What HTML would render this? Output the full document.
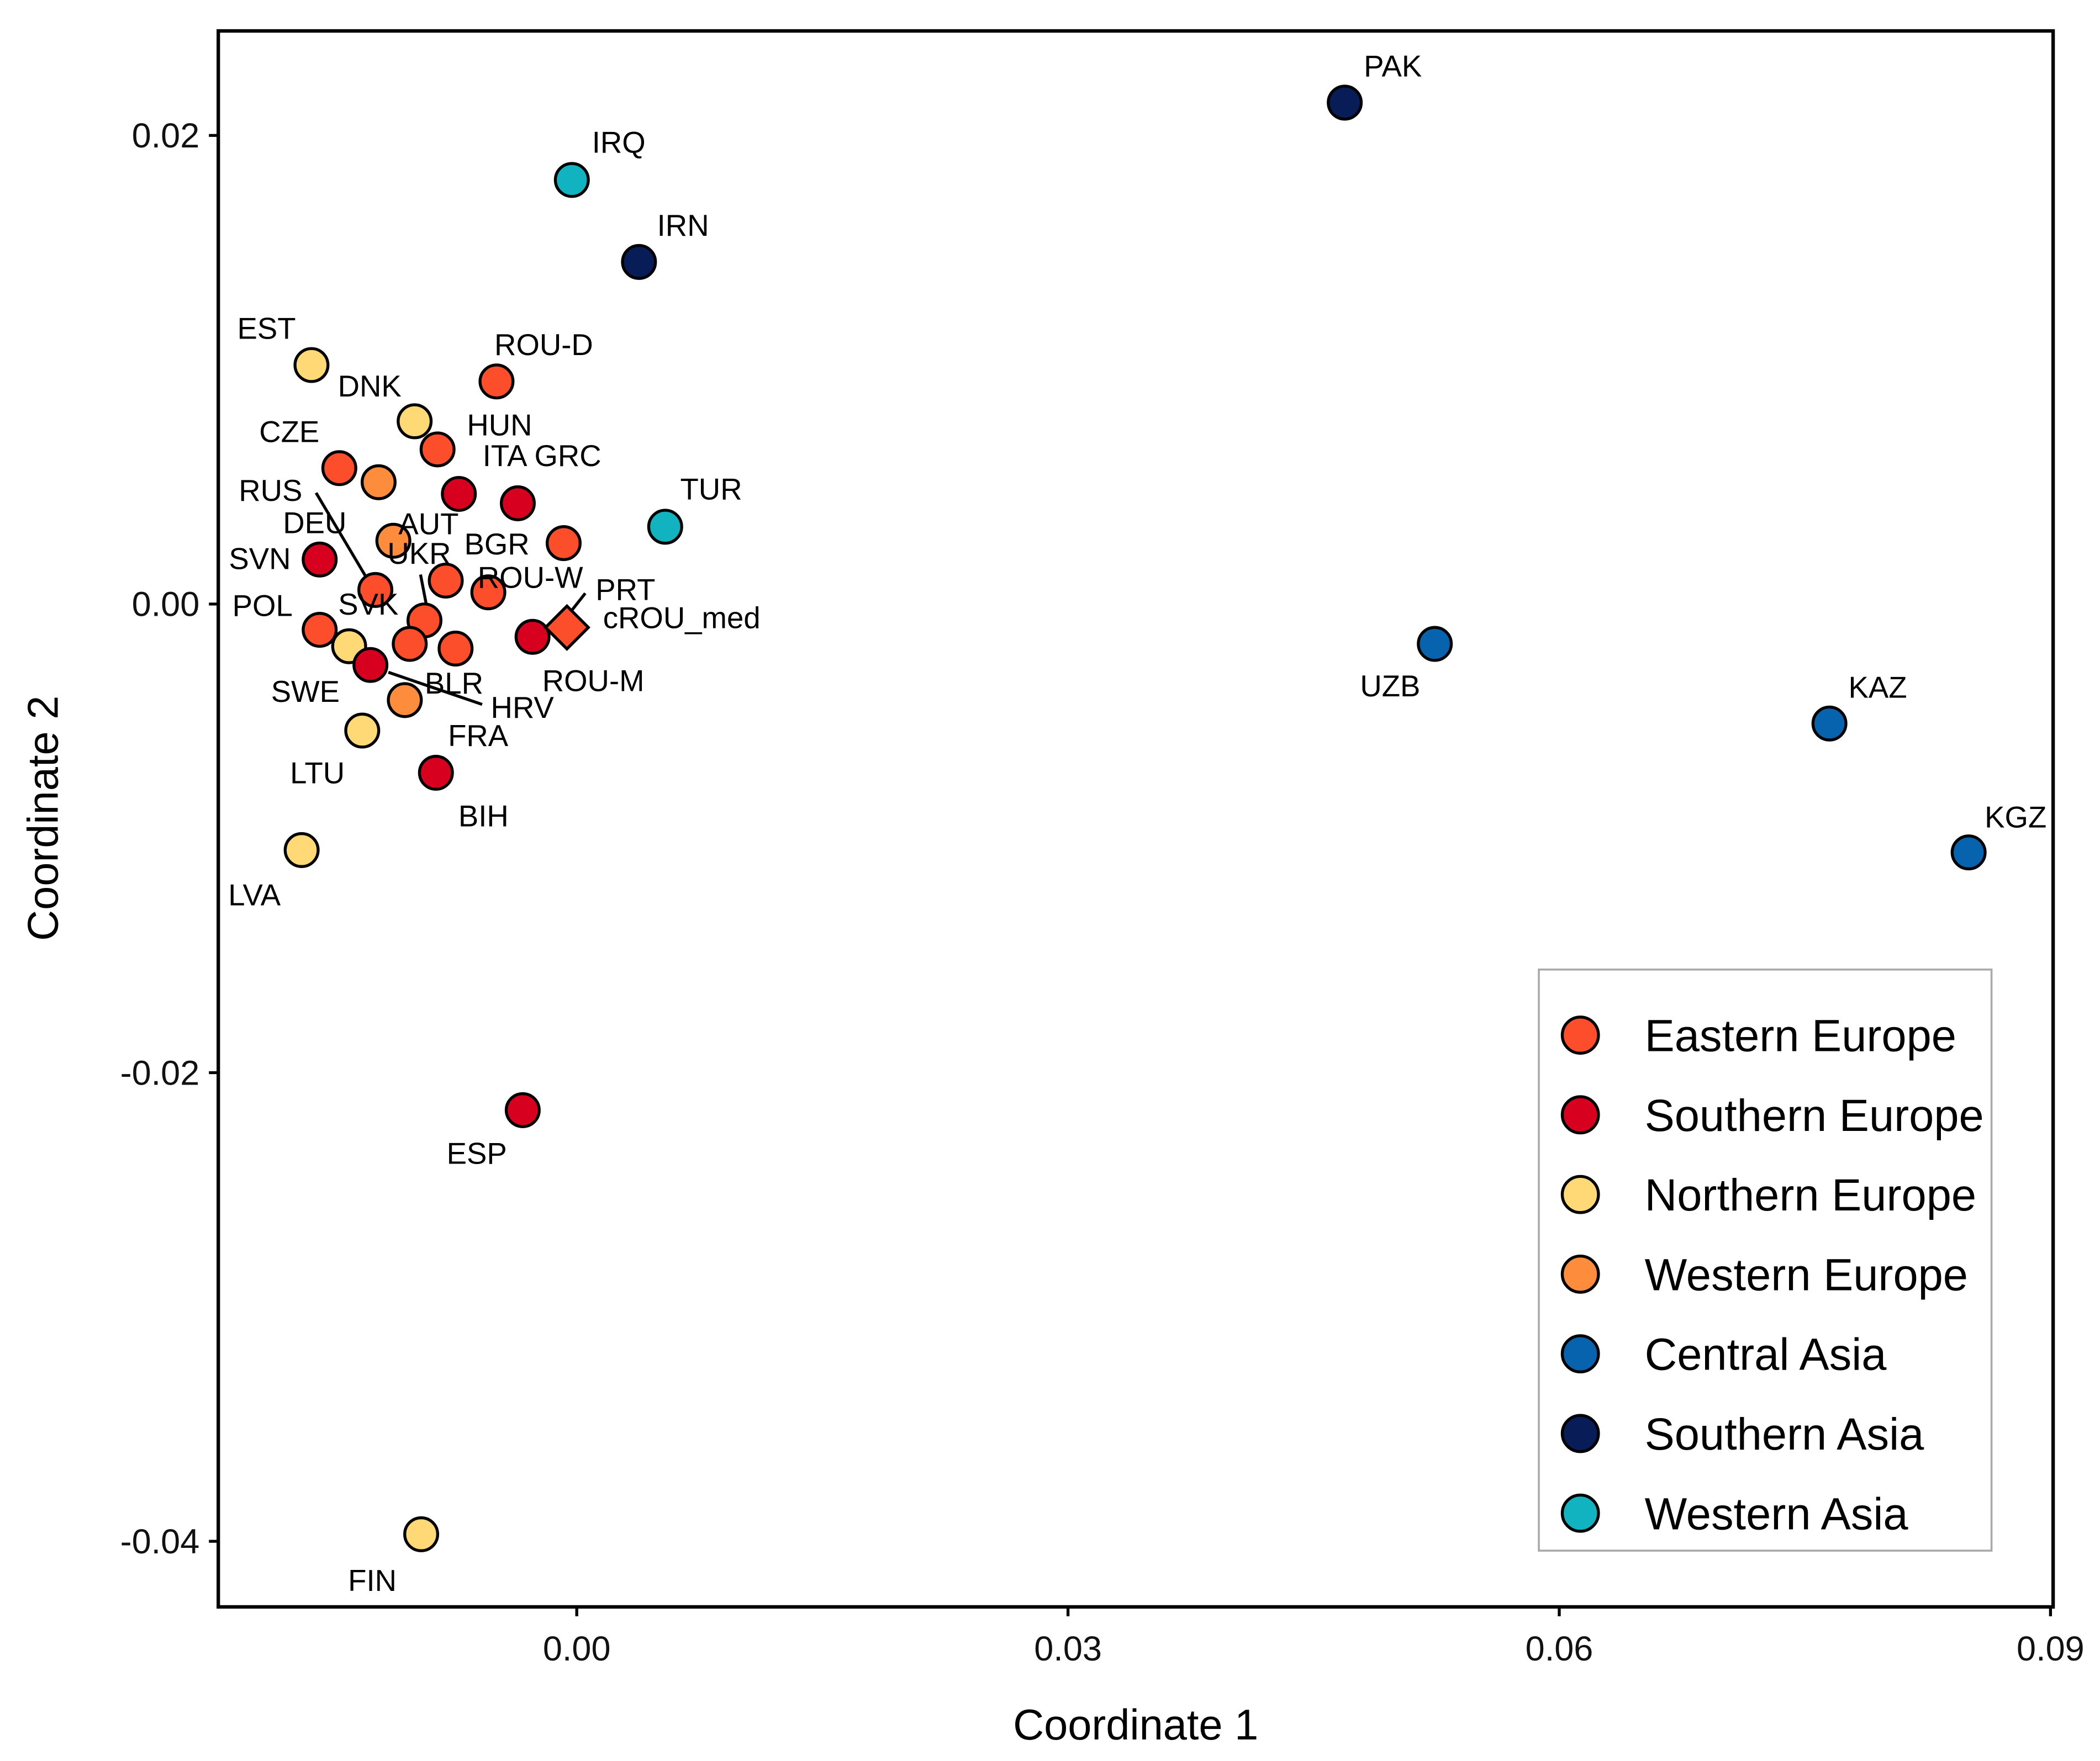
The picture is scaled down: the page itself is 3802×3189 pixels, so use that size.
<!DOCTYPE html>
<html><head><meta charset="utf-8"><style>html,body{margin:0;padding:0;background:#fff}svg{display:block}text{font-family:"Liberation Sans",Arial,sans-serif}</style></head>
<body>
<svg id="chart" xmlns="http://www.w3.org/2000/svg" width="3802" height="3189" viewBox="0 0 1568 1315">
<rect x="0" y="0" width="1568" height="1315" fill="#fff"/>
<g id="plot"></g>
</svg>
<script>
const names = ["PAK","IRQ","IRN","EST","ROU-D","DNK","HUN","CZE","DEU","ITA","GRC","TUR","AUT","BGR","SVN","SVK","UKR","ROU-W","RUS","POL","SWE","BLR","ROU-M","PRT","cROU_med","HRV","FRA","LTU","BIH","LVA","ESP","FIN","UZB","KAZ","KGZ"];
const xVals = [0.0469,-0.0003,0.0038,-0.0162,-0.0049,-0.0099,-0.0085,-0.0145,-0.0121,-0.0072,-0.0036,0.0054,-0.0112,-0.0008,-0.0157,-0.0123,-0.0080,-0.0054,-0.0093,-0.0157,-0.0139,-0.0102,-0.0074,-0.0027,-0.0006,-0.0126,-0.0105,-0.0131,-0.0086,-0.0168,-0.0033,-0.0095,0.0524,0.0765,0.0850];
const yVals = [0.0214,0.0181,0.0146,0.0102,0.0095,0.0078,0.0066,0.0058,0.0052,0.0047,0.0043,0.0033,0.0027,0.0026,0.0019,0.0006,0.0010,0.0005,-0.0007,-0.0011,-0.0018,-0.0017,-0.0019,-0.0014,-0.0010,-0.0026,-0.0041,-0.0054,-0.0072,-0.0105,-0.0216,-0.0397,-0.0017,-0.0051,-0.0106];
const groups = ["SA","WA","SA","NE","EE","NE","EE","EE","WE","SE","SE","WA","WE","EE","SE","EE","EE","EE","EE","EE","NE","EE","EE","SE","EE","SE","WE","NE","SE","NE","SE","NE","CA","CA","CA"];
const xTicks = [0.00,0.03,0.06,0.09];
const xTickLabels = ["0.00","0.03","0.06","0.09"];
const yTicks = [0.02,0.00,-0.02,-0.04];
const yTickLabels = ["0.02","0.00","-0.02","-0.04"];
const legendKeys = ["EE","SE","NE","WE","CA","SA","WA"];
const legendLabels = ["Eastern Europe","Southern Europe","Northern Europe","Western Europe","Central Asia","Southern Asia","Western Asia"];

const colors = {EE:"#FC4E2A",SE:"#D7001F",NE:"#FED976",WE:"#FD8D3C",CA:"#0863AE",SA:"#081D58",WA:"#12B3C0"};
const labelPos = {"PAK":[1040,49],"IRQ":[462,106],"IRN":[510,168],"EST":[199,245],"ROU-D":[406,257],"DNK":[276,288],"HUN":[373,317],"CZE":[216,322],"ITA":[377,340],"GRC":[424,340],"ROU-T":[446,365],"TUR":[531,365],"RUS":[202,366],"DEU":[235,390],"AUT":[320,391],"SVN":[194,417],"BGR":[371,406],"UKR":[313,413],"ROU-W":[396,431],"PRT":[467,440],"cROU_med":[509,461],"POL":[196,452],"SVK":[275,451],"SWE":[228,516],"BLR":[339,510],"ROU-M":[443,508],"HRV":[390,528],"FRA":[357,549],"LTU":[237,577],"BIH":[361,609],"LVA":[190,668],"ESP":[356,861],"FIN":[278,1180],"UZB":[1038,512],"KAZ":[1402,513],"KGZ":[1505,610]};
const L=163,R=1533,T=23,B=1200;
const X0=-0.02189,X1=0.09016,Y0=-0.0428,Y1=0.02446;
function sx(v){return L+(v-X0)/(X1-X0)*(R-L);}
function sy(v){return B-(v-Y0)/(Y1-Y0)*(B-T);}
const NS="http://www.w3.org/2000/svg";
const g=document.getElementById('plot');
function mk(tag,attrs,parent){const e=document.createElementNS(NS,tag);for(const k in attrs)e.setAttribute(k,attrs[k]);(parent||g).appendChild(e);return e;}
xTicks.forEach((t,i)=>{
 const tk=mk('line',{x1:sx(t),x2:sx(t),y1:B,y2:B+7,stroke:'#000','stroke-width':2.2});
 
 
 const tl=mk('text',{x:sx(t),y:B+40,'font-size':26,'text-anchor':'middle',fill:'#111'});tl.textContent=xTickLabels[i];
 
 
});
yTicks.forEach((t,i)=>{
 const tk=mk('line',{x1:L-7,x2:L,y1:sy(t),y2:sy(t),stroke:'#000','stroke-width':2.2});
 
 
 const tl=mk('text',{x:L-14,y:sy(t)+9,'font-size':26,'text-anchor':'end',fill:'#111'});tl.textContent=yTickLabels[i];
 
 
});
const segs=[[236,368,277,437],[314,429,319,455],[437,443,422,462],[290,502,360,526]];
segs.forEach(s=>{const l=mk('line',{x1:s[0],y1:s[1],x2:s[2],y2:s[3],stroke:'#000','stroke-width':2.2});
 
 });
names.forEach((n,i)=>{
 const cx=sx(xVals[i]),cy=sy(yVals[i]);let p;
 if(n==="cROU_med"){p=mk('polygon',{points:`${cx},${cy-16} ${cx+16},${cy} ${cx},${cy+16} ${cx-16},${cy}`,fill:colors[groups[i]],stroke:'#000','stroke-width':2.2});}
 else p=mk('circle',{cx:cx,cy:cy,r:12.3,fill:colors[groups[i]],stroke:'#000','stroke-width':2.2});
 
 
});
names.forEach(n=>{
 const lp=labelPos[n];const t=mk('text',{x:lp[0],y:lp[1]+8,'font-size':22.5,'text-anchor':'middle',fill:'#000'});t.textContent=n;
 
 
});
const br=mk('rect',{x:L,y:T,width:R-L,height:B-T,fill:'none',stroke:'#000','stroke-width':2.6});


const xt=mk('text',{x:848,y:1299,'font-size':32,'text-anchor':'middle',fill:'#000'});xt.textContent='Coordinate 1';


const yt=mk('text',{x:0,y:0,'font-size':32,'text-anchor':'middle',fill:'#000',transform:'translate(43,611) rotate(-90)'});yt.textContent='Coordinate 2';


const lg=mk('g',{});


const lb=mk('rect',{x:1149,y:724,width:338,height:434,fill:'#fff',stroke:'#aaa','stroke-width':1.5},lg);


legendKeys.forEach((k,i)=>{
 const y=773+i*59.5;
 const c=mk('circle',{cx:1180,cy:y,r:13.5,fill:colors[k],stroke:'#000','stroke-width':2.2},lg);
 
 
 const t=mk('text',{x:1228,y:y+12,'font-size':33.5,fill:'#000'},lg);t.textContent=legendLabels[i];
 
 
});
</script>
</body></html>
